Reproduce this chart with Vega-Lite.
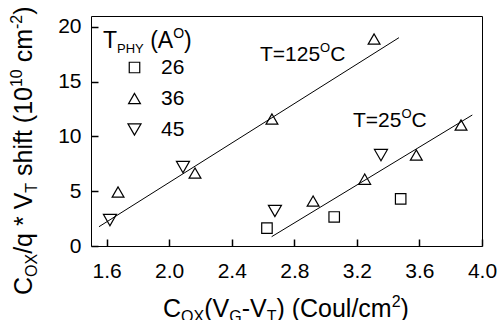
{
  "$schema": "https://vega.github.io/schema/vega-lite/v6.json",
  "width": 391,
  "height": 230,
  "autosize": {"type": "none"},
  "padding": {"left": 91, "top": 16, "right": 18, "bottom": 74},
  "background": "white",
  "data": {"values": [{}]},
  "datasets": {
    "points": [
      {"cox_vg_vt": 2.625, "shift": 1.64, "T_PHY": "26"},
      {"cox_vg_vt": 3.055, "shift": 2.65, "T_PHY": "26"},
      {"cox_vg_vt": 3.48, "shift": 4.3, "T_PHY": "26"},
      {"cox_vg_vt": 1.673, "shift": 4.93, "T_PHY": "36"},
      {"cox_vg_vt": 2.165, "shift": 6.66, "T_PHY": "36"},
      {"cox_vg_vt": 2.657, "shift": 11.6, "T_PHY": "36"},
      {"cox_vg_vt": 3.31, "shift": 18.9, "T_PHY": "36"},
      {"cox_vg_vt": 2.92, "shift": 4.1, "T_PHY": "36"},
      {"cox_vg_vt": 3.25, "shift": 6.1, "T_PHY": "36"},
      {"cox_vg_vt": 3.58, "shift": 8.3, "T_PHY": "36"},
      {"cox_vg_vt": 3.866, "shift": 11.05, "T_PHY": "36"},
      {"cox_vg_vt": 1.621, "shift": 2.37, "T_PHY": "45"},
      {"cox_vg_vt": 2.088, "shift": 7.21, "T_PHY": "45"},
      {"cox_vg_vt": 2.676, "shift": 3.2, "T_PHY": "45"},
      {"cox_vg_vt": 3.354, "shift": 8.3, "T_PHY": "45"}
    ],
    "fits": [
      {"fit": "T=125C", "cox_vg_vt": 1.551, "shift": 1.76},
      {"fit": "T=125C", "cox_vg_vt": 3.469, "shift": 19.02},
      {"fit": "T=25C", "cox_vg_vt": 2.655, "shift": 0.85},
      {"fit": "T=25C", "cox_vg_vt": 3.938, "shift": 11.96}
    ]
  },
  "config": {
    "font": "Liberation Sans",
    "view": {"stroke": "black", "strokeWidth": 1},
    "axis": {
      "domain": false,
      "tickColor": "black",
      "labelColor": "black",
      "labelFont": "Liberation Sans",
      "labelFontSize": 21,
      "grid": false,
      "ticks": true,
      "tickSize": 7,
      "offset": -7,
      "tickWidth": 1.5,
      "zindex": 1
    },
    "text": {"font": "Liberation Sans", "color": "black", "align": "left", "baseline": "alphabetic"}
  },
  "layer": [
    {
      "data": {"name": "fits"},
      "mark": {"type": "line", "color": "black", "strokeWidth": 1},
      "encoding": {
        "x": {"field": "cox_vg_vt", "type": "quantitative", "scale": {"domain": [1.5, 4.0], "nice": false, "zero": false},
              "axis": {"title": null, "values": [1.6, 1.8, 2.0, 2.2, 2.4, 2.6, 2.8, 3.0, 3.2, 3.4, 3.6, 3.8, 4.0],
                       "labelExpr": "round(datum.value*10) % 4 == 0 ? format(datum.value, '.1f') : ''",
                       "labelPadding": 14, "labelFlush": false, "labelOverlap": false,
                       "tickSize": 7, "offset": -7, "ticks": true, "tickColor": "black", "tickWidth": 1.5}},
        "y": {"field": "shift", "type": "quantitative", "scale": {"domain": [0, 21], "nice": false, "zero": false},
              "axis": {"title": null, "values": [0, 2.5, 5, 7.5, 10, 12.5, 15, 17.5, 20],
                       "labelExpr": "datum.value % 5 == 0 ? format(datum.value, 'd') : ''",
                       "labelPadding": 10, "labelOverlap": false,
                       "tickSize": 7, "offset": -7, "ticks": true, "tickColor": "black", "tickWidth": 1.5}},
        "detail": {"field": "fit", "type": "nominal"}
      }
    },
    {
      "data": {"name": "points"},
      "mark": {"type": "point", "filled": false, "color": "black", "strokeWidth": 1.2, "opacity": 1},
      "encoding": {
        "x": {"field": "cox_vg_vt", "type": "quantitative"},
        "y": {"field": "shift", "type": "quantitative"},
        "shape": {"field": "T_PHY", "type": "nominal",
                  "scale": {"domain": ["26", "36", "45"], "range": ["square", "triangle-up", "triangle-down"]},
                  "legend": {"title": null, "orient": "none", "legendX": 33, "legendY": 41, "padding": 0,
                             "labelFontSize": 21, "labelFont": "Liberation Sans", "labelColor": "black",
                             "labelOffset": 16, "rowPadding": 9, "symbolStrokeColor": "black", "symbolStrokeWidth": 1.2}},
        "size": {"field": "T_PHY", "type": "nominal",
                 "scale": {"domain": ["26", "36", "45"], "range": [110, 170, 170]}}
      }
    },
    {"mark": {"type": "text", "text": "C", "fontSize": 25, "angle": 270, "dx": 0},
     "encoding": {"x": {"datum": 1.1228, "type": "quantitative"}, "y": {"datum": -4.474, "type": "quantitative"}}},
    {"mark": {"type": "text", "text": "OX", "fontSize": 16, "angle": 270, "dx": 18.05, "dy": 5},
     "encoding": {"x": {"datum": 1.1228, "type": "quantitative"}, "y": {"datum": -4.474, "type": "quantitative"}}},
    {"mark": {"type": "text", "text": "/q * V", "fontSize": 25, "angle": 270, "dx": 41.17},
     "encoding": {"x": {"datum": 1.1228, "type": "quantitative"}, "y": {"datum": -4.474, "type": "quantitative"}}},
    {"mark": {"type": "text", "text": "T", "fontSize": 16, "angle": 270, "dx": 102.32, "dy": 5},
     "encoding": {"x": {"datum": 1.1228, "type": "quantitative"}, "y": {"datum": -4.474, "type": "quantitative"}}},
    {"mark": {"type": "text", "text": "shift (10", "fontSize": 25, "angle": 270, "dx": 119.05},
     "encoding": {"x": {"datum": 1.1228, "type": "quantitative"}, "y": {"datum": -4.474, "type": "quantitative"}}},
    {"mark": {"type": "text", "text": "10", "fontSize": 16, "angle": 270, "dx": 207.97, "dy": -10},
     "encoding": {"x": {"datum": 1.1228, "type": "quantitative"}, "y": {"datum": -4.474, "type": "quantitative"}}},
    {"mark": {"type": "text", "text": "cm", "fontSize": 25, "angle": 270, "dx": 232.71},
     "encoding": {"x": {"datum": 1.1228, "type": "quantitative"}, "y": {"datum": -4.474, "type": "quantitative"}}},
    {"mark": {"type": "text", "text": "-2", "fontSize": 16, "angle": 270, "dx": 266.04, "dy": -10},
     "encoding": {"x": {"datum": 1.1228, "type": "quantitative"}, "y": {"datum": -4.474, "type": "quantitative"}}},
    {"mark": {"type": "text", "text": ")", "fontSize": 25, "angle": 270, "dx": 280.26},
     "encoding": {"x": {"datum": 1.1228, "type": "quantitative"}, "y": {"datum": -4.474, "type": "quantitative"}}},

    {"mark": {"type": "text", "text": "C", "fontSize": 25, "dx": 0},
     "encoding": {"x": {"datum": 1.9604, "type": "quantitative"}, "y": {"datum": -6.483, "type": "quantitative"}}},
    {"mark": {"type": "text", "text": "OX", "fontSize": 16, "dx": 18.05, "dy": 5},
     "encoding": {"x": {"datum": 1.9604, "type": "quantitative"}, "y": {"datum": -6.483, "type": "quantitative"}}},
    {"mark": {"type": "text", "text": "(V", "fontSize": 25, "dx": 41.17},
     "encoding": {"x": {"datum": 1.9604, "type": "quantitative"}, "y": {"datum": -6.483, "type": "quantitative"}}},
    {"mark": {"type": "text", "text": "G", "fontSize": 16, "dx": 66.17, "dy": 5},
     "encoding": {"x": {"datum": 1.9604, "type": "quantitative"}, "y": {"datum": -6.483, "type": "quantitative"}}},
    {"mark": {"type": "text", "text": "-V", "fontSize": 25, "dx": 78.62},
     "encoding": {"x": {"datum": 1.9604, "type": "quantitative"}, "y": {"datum": -6.483, "type": "quantitative"}}},
    {"mark": {"type": "text", "text": "T", "fontSize": 16, "dx": 103.62, "dy": 5},
     "encoding": {"x": {"datum": 1.9604, "type": "quantitative"}, "y": {"datum": -6.483, "type": "quantitative"}}},
    {"mark": {"type": "text", "text": ") (Coul/cm", "fontSize": 25, "dx": 113.4},
     "encoding": {"x": {"datum": 1.9604, "type": "quantitative"}, "y": {"datum": -6.483, "type": "quantitative"}}},
    {"mark": {"type": "text", "text": "2", "fontSize": 16, "dx": 228.68, "dy": -10},
     "encoding": {"x": {"datum": 1.9604, "type": "quantitative"}, "y": {"datum": -6.483, "type": "quantitative"}}},
    {"mark": {"type": "text", "text": ")", "fontSize": 25, "dx": 237.58},
     "encoding": {"x": {"datum": 1.9604, "type": "quantitative"}, "y": {"datum": -6.483, "type": "quantitative"}}},

    {"mark": {"type": "text", "text": "T", "fontSize": 23, "dx": 0},
     "encoding": {"x": {"datum": 1.5767, "type": "quantitative"}, "y": {"datum": 18.078, "type": "quantitative"}}},
    {"mark": {"type": "text", "text": "PHY", "fontSize": 13, "dx": 14.05, "dy": 5},
     "encoding": {"x": {"datum": 1.5767, "type": "quantitative"}, "y": {"datum": 18.078, "type": "quantitative"}}},
    {"mark": {"type": "text", "text": "(A", "fontSize": 23, "dx": 47.2},
     "encoding": {"x": {"datum": 1.5767, "type": "quantitative"}, "y": {"datum": 18.078, "type": "quantitative"}}},
    {"mark": {"type": "text", "text": "O", "fontSize": 14, "dx": 70.2, "dy": -10},
     "encoding": {"x": {"datum": 1.5767, "type": "quantitative"}, "y": {"datum": 18.078, "type": "quantitative"}}},
    {"mark": {"type": "text", "text": ")", "fontSize": 23, "dx": 81.1},
     "encoding": {"x": {"datum": 1.5767, "type": "quantitative"}, "y": {"datum": 18.078, "type": "quantitative"}}},

    {"mark": {"type": "text", "text": "T=125", "fontSize": 21, "dx": 0},
     "encoding": {"x": {"datum": 2.5806, "type": "quantitative"}, "y": {"datum": 16.891, "type": "quantitative"}}},
    {"mark": {"type": "text", "text": "O", "fontSize": 13, "dx": 60.1, "dy": -9},
     "encoding": {"x": {"datum": 2.5806, "type": "quantitative"}, "y": {"datum": 16.891, "type": "quantitative"}}},
    {"mark": {"type": "text", "text": "C", "fontSize": 21, "dx": 70.2},
     "encoding": {"x": {"datum": 2.5806, "type": "quantitative"}, "y": {"datum": 16.891, "type": "quantitative"}}},
    {"mark": {"type": "text", "text": "T=25", "fontSize": 21, "dx": 0},
     "encoding": {"x": {"datum": 3.1752, "type": "quantitative"}, "y": {"datum": 10.865, "type": "quantitative"}}},
    {"mark": {"type": "text", "text": "O", "fontSize": 13, "dx": 48.4, "dy": -9},
     "encoding": {"x": {"datum": 3.1752, "type": "quantitative"}, "y": {"datum": 10.865, "type": "quantitative"}}},
    {"mark": {"type": "text", "text": "C", "fontSize": 21, "dx": 58.5},
     "encoding": {"x": {"datum": 3.1752, "type": "quantitative"}, "y": {"datum": 10.865, "type": "quantitative"}}}
  ]
}
